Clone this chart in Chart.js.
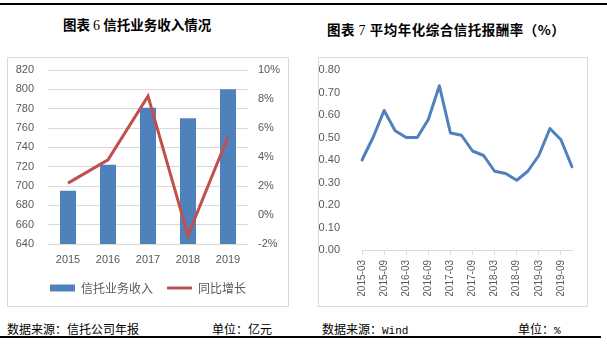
<!DOCTYPE html>
<html>
<head>
<meta charset="utf-8">
<script src="https://cdn.jsdelivr.net/npm/chart.js@4.4.1/dist/chart.umd.min.js"></script>
<style>
  body { margin: 0; background: #fff; }
  #page { position: relative; width: 607px; height: 346px; background: #fff; overflow: hidden; }
  .rule { position: absolute; left: 0; height: 2px; background: #000; }
  .title { position: absolute; font-family: "Noto Sans CJK SC", sans-serif; font-weight: bold; font-size: 13.5px; color: #000; white-space: nowrap; line-height: 16px; }
  .title .num { font-family: "Liberation Serif", serif; font-weight: normal; font-size: 14px; }
  .box { position: absolute; border: 1px solid #d9d9d9; }
  .box div { position: relative; width: 100%; height: 100%; }
  .note { position: absolute; top: 321px; font-family: "Noto Sans CJK SC", sans-serif; font-size: 12px; color: #000; white-space: nowrap; line-height: 16px; }
  .note .lat { font-family: "Liberation Mono", monospace; font-size: 11px; }
</style>
</head>
<body>
<div id="page">
  <div class="rule" style="top:3px; width:607px;"></div>

  <div class="title" style="left:63px; top:16px;">图表 <span class="num">6</span> 信托业务收入情况</div>
  <div class="title" style="left:327px; top:21px; letter-spacing:0.5px;">图表 <span class="num">7</span> 平均年化综合信托报酬率（%）</div>

  <div class="box" style="left:7px; top:57px; width:280px; height:248px;"><div><canvas id="incomeChart"></canvas></div></div>
  <div class="box" style="left:318px; top:57px; width:268px; height:248px;"><div><canvas id="rateChart"></canvas></div></div>

  <div class="note" style="left:7px;">数据来源：信托公司年报</div>
  <div class="note" style="left:212px;">单位：亿元</div>
  <div class="note" style="left:322px;">数据来源：<span class="lat">Wind</span></div>
  <div class="note" style="left:518px;">单位：<span class="lat">%</span></div>

  <div class="rule" style="top:336px; width:601px;"></div>
</div>

<script>
// 信托业务收入（亿元）与同比增长（%）
const years = ['2015', '2016', '2017', '2018', '2019'];
const trustIncome = [695, 722, 781, 770, 800];
const yoyGrowth = [2.2, 3.8, 8.2, -1.4, 5.4];

// 平均年化综合信托报酬率（%），按季度
const quarters = [
  '2015-03', '2015-06', '2015-09', '2015-12',
  '2016-03', '2016-06', '2016-09', '2016-12',
  '2017-03', '2017-06', '2017-09', '2017-12',
  '2018-03', '2018-06', '2018-09', '2018-12',
  '2019-03', '2019-06', '2019-09', '2019-12'
];
const payRate = [
  0.40, 0.50, 0.62, 0.53,
  0.50, 0.50, 0.58, 0.73,
  0.52, 0.51, 0.44, 0.42,
  0.35, 0.34, 0.31, 0.35,
  0.42, 0.54, 0.49, 0.37
];

const BLUE = '#4F81BD';
const RED = '#C0504D';
const GRID = '#d9d9d9';
const TEXT = '#595959';

Chart.defaults.animation = false;
Chart.defaults.font.family = '"Liberation Sans", Arial, sans-serif';
Chart.defaults.font.size = 11;
Chart.defaults.color = TEXT;

// fixed width for a value axis; its label padding should not push the plot area down
function fixAxis(width) {
  return s => {
    s.width = width;
    s.paddingTop = 0;
    s.paddingBottom = 0;
  };
}

new Chart(document.getElementById('incomeChart'), {
  type: 'bar',
  data: {
    labels: years,
    datasets: [
      {
        label: '信托业务收入',
        data: trustIncome,
        backgroundColor: BLUE,
        borderWidth: 0,
        barPercentage: 0.4,
        categoryPercentage: 1,
        pointStyle: 'rect',
        yAxisID: 'y',
        order: 1
      },
      {
        type: 'line',
        label: '同比增长',
        data: yoyGrowth,
        borderColor: RED,
        backgroundColor: RED,
        borderWidth: 3,
        pointRadius: 0,
        pointStyle: 'line',
        tension: 0,
        yAxisID: 'y1',
        order: 0
      }
    ]
  },
  options: {
    responsive: true,
    maintainAspectRatio: false,
    devicePixelRatio: 1,
    layout: { padding: { top: 12, left: 0, right: 0, bottom: 2 } },
    plugins: {
      tooltip: { enabled: false },
      legend: {
        position: 'bottom',
        labels: {
          usePointStyle: true,
          pointStyleWidth: 25,
          boxHeight: 7,
          padding: 14,
          color: TEXT,
          font: { family: '"Noto Sans CJK SC", sans-serif', size: 12 },
          sort: (a, b) => a.datasetIndex - b.datasetIndex
        }
      }
    },
    scales: {
      x: {
        grid: { display: false, drawTicks: false },
        border: { display: false },
        ticks: { padding: 9 },
        afterFit: s => { s.height = 24; }
      },
      y: {
        position: 'left',
        min: 640,
        max: 820,
        ticks: { stepSize: 20, padding: 14 },
        grid: { color: GRID, drawTicks: false },
        border: { display: false },
        afterFit: fixAxis(40)
      },
      y1: {
        position: 'right',
        min: -2,
        max: 10,
        ticks: { stepSize: 2, padding: 10, callback: v => v + '%' },
        grid: { drawOnChartArea: false, drawTicks: false },
        border: { display: false },
        afterFit: fixAxis(40)
      }
    }
  }
});

new Chart(document.getElementById('rateChart'), {
  type: 'line',
  data: {
    labels: quarters,
    datasets: [{
      label: '平均年化综合信托报酬率',
      data: payRate,
      borderColor: BLUE,
      borderWidth: 3,
      borderJoinStyle: 'round',
      borderCapStyle: 'round',
      pointRadius: 0,
      tension: 0
    }]
  },
  options: {
    responsive: true,
    maintainAspectRatio: false,
    devicePixelRatio: 1,
    layout: { padding: { top: 12, left: 0, right: 15, bottom: 10 } },
    plugins: {
      tooltip: { enabled: false },
      legend: { display: false }
    },
    scales: {
      x: {
        offset: false,
        grid: { drawOnChartArea: false, drawTicks: true, tickLength: 5, color: GRID },
        border: { color: GRID },
        ticks: {
          autoSkip: false,
          minRotation: 90,
          maxRotation: 90,
          padding: 5,
          font: { size: 10 },
          callback: function (v, i) { return i % 2 === 0 ? this.getLabelForValue(v) : null; }
        },
        afterFit: s => { s.height = 46; }
      },
      y: {
        min: 0,
        max: 0.8,
        ticks: { stepSize: 0.1, padding: 14, callback: v => v.toFixed(2) },
        grid: { display: false },
        border: { display: false },
        afterFit: fixAxis(43)
      }
    }
  }
});
</script>
</body>
</html>
